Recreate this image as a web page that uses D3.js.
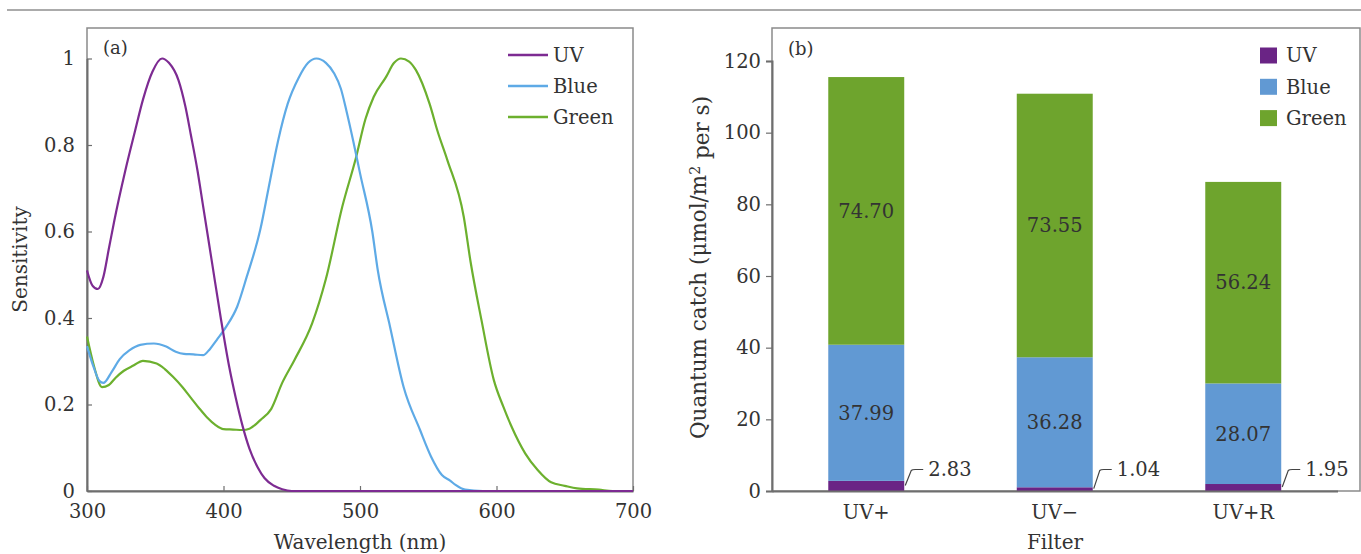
<!DOCTYPE html>
<html>
<head>
<meta charset="utf-8">
<script src="https://cdn.jsdelivr.net/npm/d3@7"></script>
<style>
  body { margin: 0; background: #fff; }
  svg { display: block; }
  text { font-family: "DejaVu Serif", serif; fill: #333; }
</style>
</head>
<body>
<svg id="chart" width="1361" height="554"></svg>
<script>
// ---- data: panel (a) spectral sensitivity, [wavelength nm, relative sensitivity]
const uvCurve = [
  [300, 0.51], [304, 0.475], [308, 0.467], [312, 0.495], [316, 0.56], [320, 0.625],
  [328, 0.74], [335, 0.83], [341, 0.905], [348, 0.97], [355, 1.0], [360, 0.99],
  [367, 0.95], [372, 0.89], [376, 0.825], [381, 0.74], [385, 0.66], [392, 0.52],
  [398, 0.4], [404, 0.29], [409, 0.215], [414, 0.15], [419, 0.098], [425, 0.055],
  [430, 0.03], [437, 0.012], [443, 0.004], [450, 0.0], [500, 0], [600, 0], [700, 0]
];
const blueCurve = [
  [300, 0.335], [305, 0.285], [309, 0.255], [312, 0.25], [318, 0.275], [324, 0.305],
  [331, 0.325], [339, 0.338], [349, 0.341], [358, 0.334], [365, 0.322], [371, 0.317],
  [378, 0.316], [385, 0.314], [390, 0.328], [395, 0.349], [402, 0.38], [410, 0.426],
  [417, 0.495], [427, 0.605], [433, 0.7], [440, 0.81], [447, 0.895], [455, 0.955],
  [462, 0.99], [468, 1.0], [475, 0.99], [481, 0.966], [486, 0.93], [490, 0.88],
  [495, 0.81], [500, 0.735], [509, 0.6], [513, 0.511], [522, 0.38], [532, 0.24],
  [544, 0.141], [552, 0.08], [560, 0.037], [566, 0.024], [570, 0.014], [577, 0.003],
  [590, 0.0], [700, 0]
];
const greenCurve = [
  [300, 0.357], [305, 0.29], [311, 0.24], [316, 0.245], [321, 0.262], [327, 0.278],
  [334, 0.29], [341, 0.301], [351, 0.295], [357, 0.282], [363, 0.264], [370, 0.24],
  [376, 0.216], [382, 0.192], [388, 0.17], [394, 0.153], [400, 0.143], [407, 0.142],
  [414, 0.141], [419, 0.144], [427, 0.164], [435, 0.19], [443, 0.25], [452, 0.303],
  [465, 0.388], [475, 0.49], [487, 0.657], [497, 0.77], [504, 0.86], [510, 0.911],
  [519, 0.957], [525, 0.99], [530, 1.0], [536, 0.993], [541, 0.973], [551, 0.895],
  [557, 0.83], [564, 0.765], [576, 0.634], [581, 0.53], [589, 0.395], [598, 0.257],
  [605, 0.195], [611, 0.149], [621, 0.087], [630, 0.049], [640, 0.02], [650, 0.012],
  [659, 0.006], [675, 0.003], [685, 0.0], [700, 0]
];
const curveNames = ["UV", "Blue", "Green"];
const xTicksA = [300, 400, 500, 600, 700];
const yTicksA = [0, 0.2, 0.4, 0.6, 0.8, 1];

// ---- data: panel (b) quantum catch per filter
const filters = ["UV+", "UV\u2212", "UV+R"];
const uvCatch = [2.83, 1.04, 1.95];
const blueCatch = [37.99, 36.28, 28.07];
const greenCatch = [74.70, 73.55, 56.24];
const yTicksB = [0, 20, 40, 60, 80, 100, 120];

const lineColors = { UV: "#7d2b92", Blue: "#5eaae6", Green: "#6cb02e" };
const barColors = { UV: "#6a2485", Blue: "#6199d3", Green: "#6ea42d" };
const axisColor = "#6e6e6e";
const fontSize = 19.5;

const svg = d3.select("#chart");

// thin rule across the top
svg.append("line")
  .attr("x1", 7).attr("x2", 1361).attr("y1", 10).attr("y2", 10)
  .attr("stroke", "#ababab").attr("stroke-width", 2);

// ================= panel (a) =================
const a = { left: 87, right: 633, top: 28, bottom: 491 };
const xA = d3.scaleLinear().domain([300, 700]).range([a.left, a.right]);
const yA = d3.scaleLinear().domain([0, 1]).range([a.bottom, 58.5]);

const gA = svg.append("g");

// frame
gA.append("rect")
  .attr("x", a.left).attr("y", a.top)
  .attr("width", a.right - a.left).attr("height", a.bottom - a.top)
  .attr("fill", "none").attr("stroke", "#8a8a8a").attr("stroke-width", 1.5);

const xAxisA = gA.append("g")
  .attr("transform", `translate(0,${a.bottom})`)
  .call(d3.axisBottom(xA).tickValues(xTicksA).tickSizeInner(-5).tickSizeOuter(0).tickPadding(9));
const yAxisA = gA.append("g")
  .attr("transform", `translate(${a.left},0)`)
  .call(d3.axisLeft(yA).tickValues(yTicksA).tickSizeInner(-5).tickSizeOuter(0).tickPadding(12)
    .tickFormat(d => d === 0 || d === 1 ? d : d3.format(".1f")(d)));

[xAxisA, yAxisA].forEach(g => {
  g.select(".domain").attr("stroke", axisColor).attr("stroke-width", 2);
  g.selectAll(".tick line").attr("stroke", axisColor).attr("stroke-width", 1.2);
  g.selectAll(".tick text").attr("font-size", fontSize).attr("font-family", "DejaVu Serif").attr("fill", "#333");
});
xAxisA.selectAll(".tick text").attr("dy", "0.9em");

const line = d3.line()
  .x(d => xA(d[0]))
  .y(d => yA(d[1]))
  .curve(d3.curveMonotoneX);

const curves = { UV: uvCurve, Blue: blueCurve, Green: greenCurve };
// draw green first so UV/blue sit on top like the original
["Green", "Blue", "UV"].forEach(name => {
  gA.append("path")
    .attr("d", line(curves[name]))
    .attr("fill", "none")
    .attr("stroke", lineColors[name])
    .attr("stroke-width", 2.2)
    .attr("stroke-linejoin", "round");
});

gA.append("text").attr("x", 103).attr("y", 54).attr("font-size", 18).text("(a)");

// legend (a)
curveNames.forEach((name, i) => {
  const cy = 55 + i * 31;
  gA.append("line")
    .attr("x1", 508).attr("x2", 548).attr("y1", cy).attr("y2", cy)
    .attr("stroke", lineColors[name]).attr("stroke-width", 2.5);
  gA.append("text")
    .attr("x", 553).attr("y", cy).attr("dy", "0.35em")
    .attr("font-size", fontSize).text(name);
});

gA.append("text")
  .attr("x", (a.left + a.right) / 2).attr("y", 549)
  .attr("text-anchor", "middle").attr("font-size", fontSize + 0.5)
  .text("Wavelength (nm)");
gA.append("text")
  .attr("transform", `translate(27,${(a.top + a.bottom) / 2}) rotate(-90)`)
  .attr("text-anchor", "middle").attr("font-size", fontSize + 0.5)
  .text("Sensitivity");

// ================= panel (b) =================
const b = { left: 772, right: 1360, top: 28, bottom: 491 };
const xB = d3.scaleBand().domain(filters).range([b.left, b.left + 3 * 188.5])
  .paddingInner(0.597).paddingOuter(0.2985);
const yB = d3.scaleLinear().domain([0, 120]).range([b.bottom, 61]);

const gB = svg.append("g");

gB.append("rect")
  .attr("x", b.left).attr("y", b.top)
  .attr("width", b.right - b.left).attr("height", b.bottom - b.top)
  .attr("fill", "none").attr("stroke", "#8a8a8a").attr("stroke-width", 1.5);

const stackRows = filters.map((f, i) => ({
  filter: f, UV: uvCatch[i], Blue: blueCatch[i], Green: greenCatch[i]
}));
const stacked = d3.stack().keys(curveNames)(stackRows);

stacked.forEach(layer => {
  gB.append("g")
    .selectAll("rect")
    .data(layer)
    .join("rect")
    .attr("x", d => xB(d.data.filter))
    .attr("width", xB.bandwidth())
    .attr("y", d => yB(d[1]))
    .attr("height", d => yB(d[0]) - yB(d[1]))
    .attr("fill", barColors[layer.key]);
});

const xAxisB = gB.append("g")
  .attr("transform", `translate(0,${b.bottom})`)
  .call(d3.axisBottom(xB).tickSize(0).tickPadding(10));
const yAxisB = gB.append("g")
  .attr("transform", `translate(${b.left},0)`)
  .call(d3.axisLeft(yB).tickValues(yTicksB).tickSize(6).tickPadding(5));

[xAxisB, yAxisB].forEach(g => {
  g.select(".domain").attr("stroke", axisColor).attr("stroke-width", 2);
  g.selectAll(".tick line").attr("stroke", axisColor).attr("stroke-width", 1.2);
  g.selectAll(".tick text").attr("font-size", fontSize).attr("font-family", "DejaVu Serif").attr("fill", "#333");
});
xAxisB.selectAll(".tick text").attr("dy", "0.9em");

// value labels centred in green and blue segments
stacked.filter(l => l.key !== "UV").forEach(layer => {
  gB.append("g")
    .selectAll("text")
    .data(layer)
    .join("text")
    .attr("x", d => xB(d.data.filter) + xB.bandwidth() / 2)
    .attr("y", d => yB((d[0] + d[1]) / 2))
    .attr("dy", "0.35em")
    .attr("text-anchor", "middle")
    .attr("font-size", fontSize)
    .attr("fill", "#222")
    .text(d => d3.format(".2f")(d.data[layer.key]));
});

// UV values sit outside with a small leader line
stacked[0].forEach(d => {
  const x0 = xB(d.data.filter) + xB.bandwidth();
  const y0 = yB(d[1] / 2) - 0.5;
  const yl = yB(6);
  gB.append("path")
    .attr("d", `M${x0 + 1},${y0} L${x0 + 7},${yl + 1} Q${x0 + 8},${yl} ${x0 + 11},${yl} L${x0 + 19},${yl}`)
    .attr("fill", "none").attr("stroke", "#444").attr("stroke-width", 1.2);
  gB.append("text")
    .attr("x", x0 + 24).attr("y", yl).attr("dy", "0.35em")
    .attr("font-size", fontSize).attr("fill", "#222")
    .text(d3.format(".2f")(d.data.UV));
});

gB.append("text").attr("x", 788).attr("y", 55).attr("font-size", 18).text("(b)");

// legend (b)
curveNames.forEach((name, i) => {
  const cy = 55.5 + i * 31.3;
  gB.append("rect")
    .attr("x", 1260).attr("y", cy - 8).attr("width", 17).attr("height", 16)
    .attr("fill", barColors[name]);
  gB.append("text")
    .attr("x", 1286).attr("y", cy).attr("dy", "0.35em")
    .attr("font-size", fontSize).text(name);
});

gB.append("text")
  .attr("x", 1055).attr("y", 549)
  .attr("text-anchor", "middle").attr("font-size", fontSize + 0.5)
  .text("Filter");

const yTitle = gB.append("text")
  .attr("transform", `translate(706,${(b.top + b.bottom) / 2 + 8}) rotate(-90)`)
  .attr("text-anchor", "middle").attr("font-size", 21.5);
yTitle.append("tspan").text("Quantum catch (\u03bcmol/m");
yTitle.append("tspan").attr("dy", "-0.45em").attr("font-size", 14).text("2");
yTitle.append("tspan").attr("dy", "0.45em").text(" per s)");
</script>
</body>
</html>
